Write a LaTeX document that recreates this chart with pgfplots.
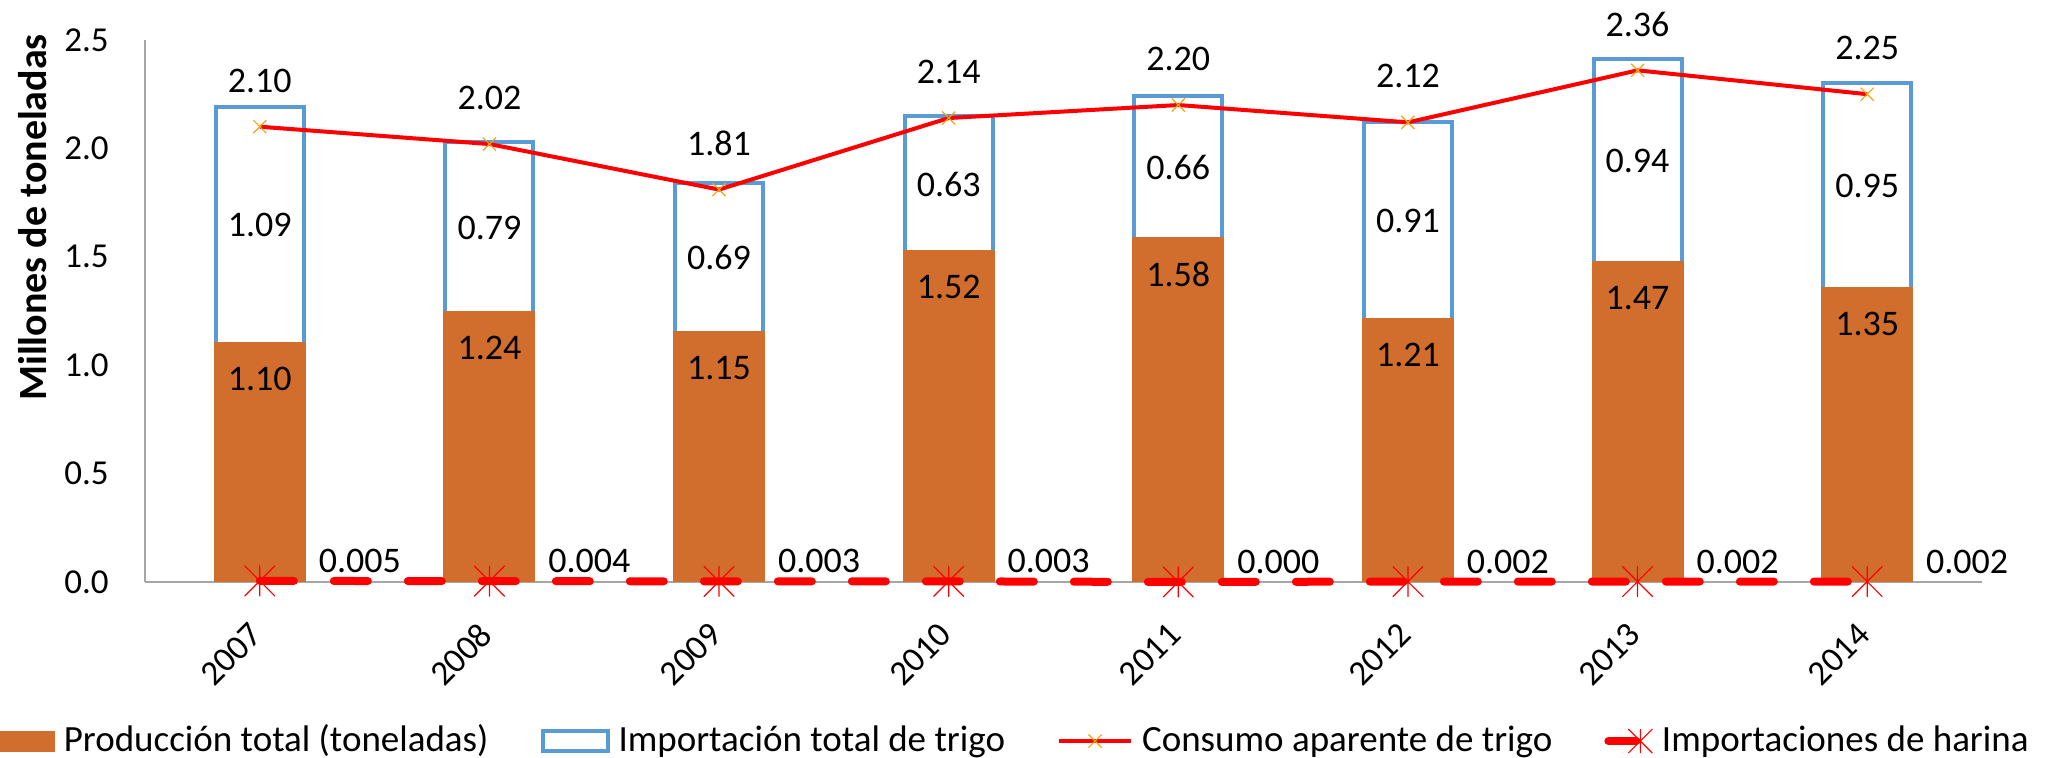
\documentclass[border=0pt]{standalone}
\usepackage{pgfplots}
\pgfplotsset{compat=1.18}
\usepackage{pgfplotstable}
\usepackage{fontspec}
\setmainfont{Carlito}
\definecolor{prodC}{RGB}{210,110,45}
\definecolor{impC}{RGB}{91,155,213}
\definecolor{consC}{RGB}{255,0,0}
\definecolor{markC}{RGB}{240,165,20}
\definecolor{axC}{RGB}{166,166,166}
\pgfdeclareplotmark{xast}{%
  \pgfpathmoveto{\pgfqpoint{0pt}{\pgfplotmarksize}}\pgfpathlineto{\pgfqpoint{0pt}{-\pgfplotmarksize}}%
  \pgfpathmoveto{\pgfqpoint{-\pgfplotmarksize}{-\pgfplotmarksize}}\pgfpathlineto{\pgfqpoint{\pgfplotmarksize}{\pgfplotmarksize}}%
  \pgfpathmoveto{\pgfqpoint{-\pgfplotmarksize}{\pgfplotmarksize}}\pgfpathlineto{\pgfqpoint{\pgfplotmarksize}{-\pgfplotmarksize}}%
  \pgfusepathqstroke}
\pgfplotstableread{
x prod imp cons har
0 1.10 1.09 2.10 0.005
1 1.24 0.79 2.02 0.004
2 1.15 0.69 1.81 0.003
3 1.52 0.63 2.14 0.003
4 1.58 0.66 2.20 0.000
5 1.21 0.91 2.12 0.002
6 1.47 0.94 2.36 0.002
7 1.35 0.95 2.25 0.002
}\datatable
\pgfplotsset{
  /pgf/number format/assume math mode=true,
  base/.style={scale only axis, width=918.5pt, height=271pt,
    xmin=-0.5, xmax=7.5, ymin=0, ymax=2.5},
}
\begin{document}
\fontsize{18}{21.6}\selectfont
\begin{tikzpicture}
\begin{axis}[base, ybar stacked, bar width=44pt,
  axis lines*=left, axis line style={draw=axC, line width=0.8pt},
  major tick length=0pt,
  tick label style={font=\fontsize{17.5}{21}\selectfont},
  xtick={0,...,7}, xticklabels={2007,2008,2009,2010,2011,2012,2013,2014},
  xticklabel style={inner sep=0pt, anchor=east, xshift=-1.5pt, yshift=-23.5pt, rotate=45},
  ytick={0,0.5,1,1.5,2,2.5}, scaled y ticks=false,
  yticklabel style={/pgf/number format/fixed, /pgf/number format/precision=1,
    /pgf/number format/fixed zerofill, inner sep=0pt, anchor=east, xshift=-18pt},
  ylabel={\fontsize{20}{24}\selectfont\bfseries Millones de toneladas},
  every axis y label/.style={at={(rel axis cs:0,0.6725)}, xshift=-56pt, rotate=90, anchor=center},
]
\addplot[fill=prodC, draw=prodC, line width=2pt] table[x=x,y=prod]{\datatable};
\addplot[fill=white, draw=impC, line width=2pt] table[x=x,y=imp]{\datatable};
\end{axis}
\begin{axis}[base, hide axis, clip=false,
  legend style={at={(-0.0789,-0.2934)}, anchor=west, draw=none, fill=none,
    inner sep=0pt, outer sep=0pt, legend columns=4,
    font=\fontsize{18.5}{22}\selectfont,
    nodes={inner sep=0pt, anchor=west},
    /tikz/every odd column/.append style={column sep=4.5pt},
    /tikz/every even column/.append style={column sep=26pt}},
  legend cell align=left,
]
\addlegendimage{legend image code/.code={\fill[prodC] (0pt,-5pt) rectangle (27pt,5pt);}}
\addlegendentry{Producción total (toneladas)}
\addlegendimage{legend image code/.code={\draw[impC, line width=2pt, fill=white] (1pt,-5pt) rectangle (33.5pt,5pt);}}
\addlegendentry{Importación total de trigo}
\addlegendimage{legend image code/.code={\draw[consC, line width=2pt] (0pt,0pt) -- (36pt,0pt);
   \draw[markC, line width=0.6pt] (14.7pt,-3.3pt) -- (21.3pt,3.3pt) (14.7pt,3.3pt) -- (21.3pt,-3.3pt);}}
\addlegendentry{Consumo aparente de trigo}
\addlegendimage{legend image code/.code={\draw[consC, line width=4pt, line cap=round] (2pt,0pt) -- (16pt,0pt);
   \draw[consC, line width=0.6pt] (18pt,-6pt) -- (18pt,6pt) (12pt,-6pt) -- (24pt,6pt) (12pt,6pt) -- (24pt,-6pt);}}
\addlegendentry{Importaciones de harina}
% consumo line
\addplot[forget plot, consC, line width=2pt, mark=x, mark size=4.6pt,
  mark options={markC, line width=0.6pt}] table[x=x,y=cons]{\datatable};
% harina line
\addplot[forget plot, consC, line width=4pt, line cap=round, dash pattern=on 17pt off 20pt,
  mark=xast, mark size=7.5pt, mark options={solid, consC, line width=0.6pt}] table[x=x,y=har]{\datatable};
% labels
\addplot[forget plot, draw=none, mark=none, nodes near coords, point meta=explicit,
  nodes near coords style={text=black, anchor=center, yshift=-17.5pt,
  /pgf/number format/fixed, /pgf/number format/precision=2, /pgf/number format/fixed zerofill}]
  table[x=x,y=prod,meta=prod]{\datatable};
\addplot[forget plot, draw=none, mark=none, nodes near coords, point meta=explicit,
  nodes near coords style={text=black, anchor=center,
  /pgf/number format/fixed, /pgf/number format/precision=2, /pgf/number format/fixed zerofill}]
  table[x=x,y expr=\thisrow{prod}+\thisrow{imp}/2,meta=imp]{\datatable};
\addplot[forget plot, draw=none, mark=none, nodes near coords, point meta=explicit,
  nodes near coords style={text=black, anchor=center, yshift=23pt,
  /pgf/number format/fixed, /pgf/number format/precision=2, /pgf/number format/fixed zerofill}]
  table[x=x,y=cons,meta=cons]{\datatable};
\addplot[forget plot, draw=none, mark=none, nodes near coords, point meta=explicit,
  nodes near coords style={text=black, anchor=center, xshift=50pt, yshift=10pt,
  /pgf/number format/fixed, /pgf/number format/precision=3, /pgf/number format/fixed zerofill}]
  table[x=x,y=har,meta=har]{\datatable};
\end{axis}
\pgfresetboundingbox
\useasboundingbox (-72.5pt,-88pt) rectangle (963.5pt,291pt);
\end{tikzpicture}
\end{document}
